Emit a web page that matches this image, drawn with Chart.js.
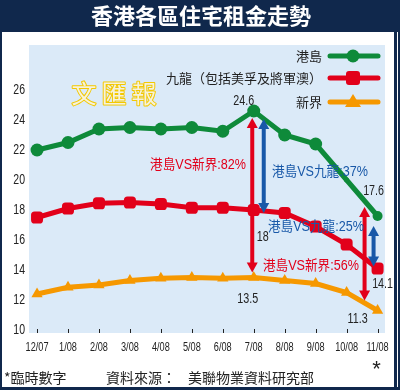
<!DOCTYPE html>
<html>
<head>
<meta charset="utf-8">
<script src="https://cdn.jsdelivr.net/npm/chart.js@4"></script>
<style>
html,body{margin:0;padding:0;background:#fff;}
canvas{display:block;}
</style>
</head>
<body>
<canvas id="c" width="400" height="390"></canvas>
<script>
// ---- data ----
const categories = ['12/07','1/08','2/08','3/08','4/08','5/08','6/08','7/08','8/08','9/08','10/08','11/08'];
const hkIsland = [22.0, 22.5, 23.4, 23.5, 23.4, 23.5, 23.25, 24.6, 23.0, 22.4, 20.0, 17.6];
const kowloon  = [17.5, 18.1, 18.45, 18.5, 18.4, 18.15, 18.15, 18.0, 17.8, 16.9, 15.7, 14.1];
const newTerr  = [12.4, 12.85, 13.0, 13.3, 13.45, 13.5, 13.45, 13.5, 13.3, 13.1, 12.5, 11.3];
const seriesNames = ['港島', '九龍（包括美孚及將軍澳）', '新界'];
const yTicks = [10, 12, 14, 16, 18, 20, 22, 24, 26];
const title = '香港各區住宅租金走勢';
const compareLabels = ['港島VS新界:82%', '港島VS九龍:37%', '港島VS九龍:25%', '港島VS新界:56%'];
const footNote = '*臨時數字';
const sourceLabel = '資料來源：';
const sourceName = '美聯物業資料研究部';

const GREEN = 'rgb(14,138,58)';
const RED = 'rgb(226,0,26)';
const ORANGE = 'rgb(246,152,0)';
const BLUE = 'rgb(24,88,168)';
const NAVY = '#10284c';
const LAT = '"Liberation Sans",Arial,sans-serif';
const MIX = '"Liberation Sans","Noto Sans CJK TC",sans-serif';
const CJK = '"Noto Sans CJK TC","Noto Sans CJK SC",sans-serif';

function pts(arr){ return arr.map((v,i)=>({x:i,y:v})); }

function ctext(ctx, text, x, y, align, sx){
  ctx.save();
  ctx.translate(x, y);
  ctx.scale(sx, 1);
  ctx.textAlign = align;
  ctx.fillText(text, 0, 0);
  ctx.restore();
}

function arrow(ctx, x, y1, y2, color){
  const hw = 5.5, hl = 10, sw = 2;
  ctx.save();
  ctx.fillStyle = color;
  ctx.fillRect(x - sw, y1 + hl - 1, sw*2, (y2 - y1) - 2*hl + 2);
  ctx.beginPath();
  ctx.moveTo(x, y1); ctx.lineTo(x - hw, y1 + hl); ctx.lineTo(x + hw, y1 + hl); ctx.closePath(); ctx.fill();
  ctx.beginPath();
  ctx.moveTo(x, y2); ctx.lineTo(x - hw, y2 - hl); ctx.lineTo(x + hw, y2 - hl); ctx.closePath(); ctx.fill();
  ctx.restore();
}

const decor = {
  id: 'decor',
  beforeDraw(chart){
    const ctx = chart.ctx, a = chart.chartArea;
    ctx.save();
    ctx.fillStyle = '#fff';
    ctx.fillRect(0,0,400,390);
    // frame
    ctx.fillStyle = NAVY;
    ctx.fillRect(0,0,400,32);
    ctx.fillRect(0,0,2,390);
    ctx.fillRect(394,0,3,390);
    ctx.fillRect(0,387,400,3);
    ctx.fillRect(398,0,2,390);
    // title
    ctx.fillStyle = '#fff';
    ctx.font = 'bold 22px ' + CJK;
    ctx.textAlign = 'center';
    ctx.textBaseline = 'middle';
    ctx.fillText(title, 201, 16);
    // plot background
    ctx.fillStyle = '#dbeaf8';
    ctx.fillRect(a.left, a.top, a.right - a.left, a.bottom - a.top + 3);
    // watermark
    ctx.font = '25px ' + CJK;
    ctx.textAlign = 'center';
    ctx.lineWidth = 2;
    ctx.lineJoin = 'round';
    ctx.strokeStyle = '#f3c800';
    ctx.fillStyle = '#f6f2dc';
    ['文','匯','報'].forEach((ch,i)=>{
      ctx.strokeText(ch, 84 + i*30, 93);
      ctx.fillText(ch, 84 + i*30, 93);
    });
    // inward ticks
    const xs = chart.scales.x;
    ctx.strokeStyle = '#222';
    ctx.lineWidth = 1;
    categories.forEach((c,i)=>{
      const px = Math.round(xs.getPixelForValue(i)) + 0.5;
      ctx.beginPath(); ctx.moveTo(px, a.bottom - 1); ctx.lineTo(px, a.bottom + 3); ctx.stroke();
    });
    // tick labels (condensed)
    const ys = chart.scales.y;
    ctx.fillStyle = '#222';
    ctx.textBaseline = 'middle';
    ctx.font = '15px ' + LAT;
    yTicks.forEach(v => ctext(ctx, String(v), a.left - 4, ys.getPixelForValue(v), 'right', 0.7));
    ctx.font = '13.5px ' + LAT;
    categories.forEach((c,i) => ctext(ctx, c, xs.getPixelForValue(i), 347, 'center', 0.68));
    ctx.restore();
  },
  afterDatasetsDraw(chart){
    const ctx = chart.ctx, xs = chart.scales.x, ys = chart.scales.y;
    const px = i => xs.getPixelForValue(i);
    const py = v => ys.getPixelForValue(v);
    ctx.save();
    // arrows
    arrow(ctx, px(7) - 1.5, py(hkIsland[7]) + 7, py(newTerr[7]) - 5, RED);
    arrow(ctx, px(7) + 10, py(hkIsland[7]) + 8, py(kowloon[7]) + 3, BLUE);
    arrow(ctx, px(11) - 13, py(hkIsland[11]) - 9, py(newTerr[11]) - 10, RED);
    arrow(ctx, px(11) - 4, py(hkIsland[11]) + 10, py(kowloon[11]) - 2, BLUE);
    // comparison labels
    ctx.font = '14px ' + MIX;
    ctx.textBaseline = 'middle';
    ctx.fillStyle = RED;
    ctext(ctx, compareLabels[0], 246, 165, 'right', 0.9);
    ctx.fillStyle = BLUE;
    ctext(ctx, compareLabels[1], 272, 172, 'left', 0.9);
    ctext(ctx, compareLabels[2], 268, 227, 'left', 0.9);
    ctx.fillStyle = RED;
    ctext(ctx, compareLabels[3], 263, 266, 'left', 0.9);
    // value labels
    ctx.fillStyle = '#222';
    ctx.font = '14.5px ' + LAT;
    const S = 0.74;
    ctext(ctx, hkIsland[7].toFixed(1), px(7) - 10, py(hkIsland[7]) - 10, 'center', S);
    ctext(ctx, String(kowloon[7]), px(7) + 9, py(kowloon[7]) + 27, 'center', S);
    ctext(ctx, newTerr[7].toFixed(1), px(7) - 6, py(newTerr[7]) + 21, 'center', S);
    ctext(ctx, hkIsland[11].toFixed(1), px(11) - 4, py(hkIsland[11]) - 25, 'center', S);
    ctext(ctx, kowloon[11].toFixed(1), px(11) + 5, py(kowloon[11]) + 15, 'center', S);
    ctext(ctx, newTerr[11].toFixed(1), px(11) - 20, py(newTerr[11]) + 8, 'center', S);
    // legend
    const markers = ['circle','square','triangle'];
    const cols = [GREEN, RED, ORANGE];
    const ly = [56, 78, 102];
    ctx.font = '13px ' + CJK;
    ctx.textAlign = 'right';
    seriesNames.forEach((n,i)=>{
      ctx.fillStyle = '#222';
      ctx.fillText(n, 322, ly[i]);
      ctx.strokeStyle = cols[i]; ctx.lineWidth = 5; ctx.lineCap = 'round';
      ctx.beginPath(); ctx.moveTo(330, ly[i]); ctx.lineTo(378, ly[i]); ctx.stroke();
      ctx.fillStyle = cols[i];
      ctx.beginPath();
      if (markers[i] === 'circle') ctx.arc(353, ly[i], 6.5, 0, Math.PI*2);
      else if (markers[i] === 'square') { ctx.roundRect ? ctx.roundRect(346, ly[i]-7, 14, 14, 3) : ctx.rect(346, ly[i]-7, 14, 14); }
      else { ctx.moveTo(353, ly[i]-8); ctx.lineTo(361, ly[i]+5); ctx.lineTo(345, ly[i]+5); ctx.closePath(); }
      ctx.fill();
    });
    // footer
    ctx.fillStyle = '#222';
    ctx.textAlign = 'left';
    ctx.font = '14px ' + CJK;
    ctx.fillText(footNote, 4, 378);
    ctx.fillText(sourceLabel, 106, 378);
    ctx.fillText(sourceName, 188, 378);
    ctx.font = '22px ' + LAT;
    ctx.textAlign = 'center';
    ctx.fillText('*', px(11) - 1, 370);
    ctx.restore();
  }
};

function ds(label, data, color, style, radii){
  return {
    label, data: pts(data),
    borderColor: color, backgroundColor: color,
    borderWidth: 5, tension: 0,
    pointStyle: style, pointRadius: radii,
    pointBorderWidth: 0, pointHoverRadius: 6
  };
}
const r = n => categories.map(() => n);
const greenR = r(6.5); greenR[10] = 2.5; greenR[11] = 5;

new Chart(document.getElementById('c'), {
  type: 'line',
  data: {
    datasets: [
      ds(seriesNames[0], hkIsland, GREEN, 'circle', greenR),
      ds(seriesNames[1], kowloon, RED, 'rectRounded', r(7)),
      ds(seriesNames[2], newTerr, ORANGE, 'triangle', r(6.5))
    ]
  },
  options: {
    responsive: false,
    devicePixelRatio: 1,
    animation: false,
    events: [],
    layout: { padding: { top: 45, right: 15, left: 0, bottom: 30 } },
    plugins: { legend: { display: false }, tooltip: { enabled: false } },
    scales: {
      x: {
        type: 'linear', min: -0.26, max: 11.24,
        grid: { display: false, drawTicks: false },
        border: { display: false },
        afterBuildTicks: s => { s.ticks = categories.map((c,i)=>({value:i})); },
        afterFit: s => { s.height = 30; },
        ticks: { display: false }
      },
      y: {
        min: 10, max: 29,
        grid: { display: false, drawTicks: false },
        border: { display: false },
        afterBuildTicks: s => { s.ticks = yTicks.map(v=>({value:v})); },
        afterFit: s => { s.width = 29; },
        ticks: { display: false }
      }
    }
  },
  plugins: [decor]
});
</script>
</body>
</html>
